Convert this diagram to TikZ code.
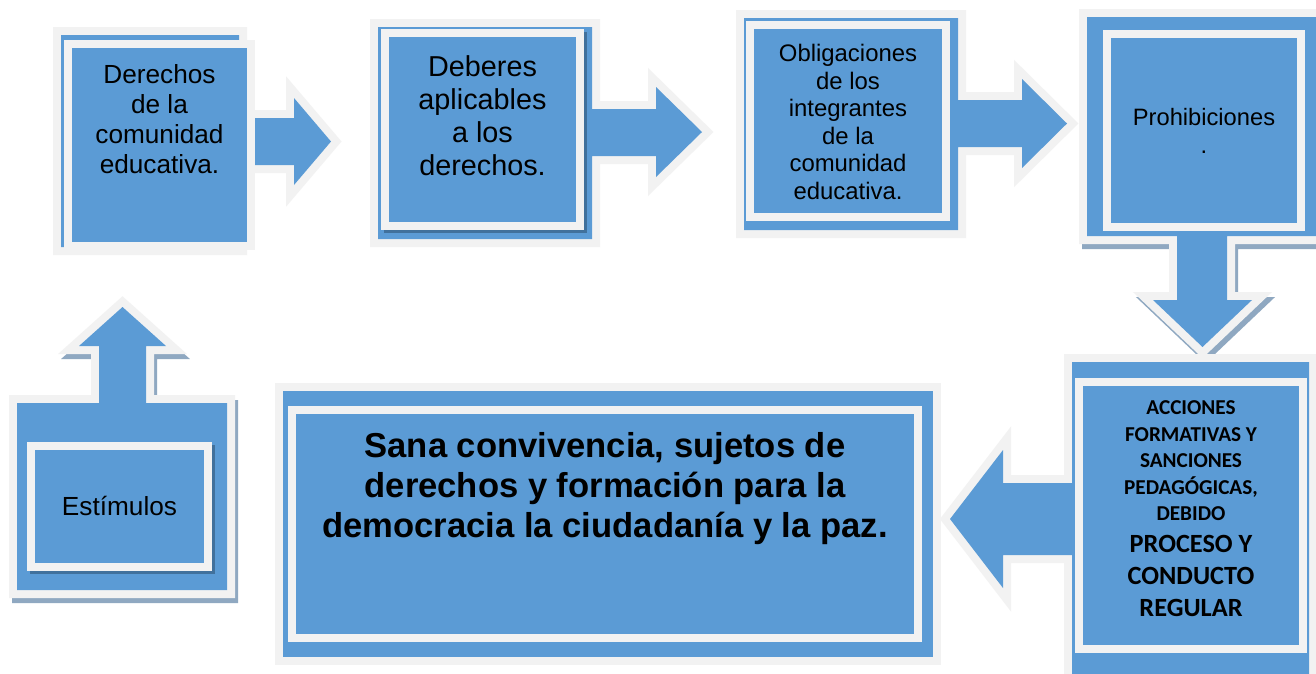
\documentclass[tikz,border=0pt]{standalone}
\usepackage{fontspec}
\setmainfont{Liberation Sans}
\newfontfamily\calibfont{Carlito}
\definecolor{bl}{HTML}{5B9BD5}
\definecolor{gr}{HTML}{F2F2F2}
\definecolor{shd}{HTML}{8FA8C1}
\definecolor{dsh}{HTML}{41719C}
\begin{document}
\begin{tikzpicture}[x=1pt,y=-1pt,
  callout/.style={fill=bl, preaction={draw=gr, line width=16pt, line join=miter, miter limit=20}},
  cshadow/.style={preaction={draw=shd, fill=shd, line width=16pt, line join=miter, miter limit=20, transform canvas={shift={(3pt,-5pt)}}}},
  tbox/.style={fill=bl, draw=gr, line width=8pt, inner sep=0pt, line join=miter},
  tshadow/.style={preaction={draw=dsh, fill=dsh, line width=8pt, transform canvas={shift={(3pt,-3pt)}}}},
  txt/.style={align=center, inner sep=0pt, text=black},
]
\useasboundingbox (0,0) rectangle (1316,673);
\clip (0,0) rectangle (1316,673);
\fill[white] (0,0) rectangle (1316,673);

% 1 Derechos
\path[callout] (61,35) -- (239,35) -- (239,118) -- (294,118) -- (294,98) -- (331,141.5) -- (294,185) -- (294,165) -- (239,165) -- (239,247) -- (61,247) -- cycle;
\node[tbox, minimum width=183pt, minimum height=202pt] (b1) at (159.5,145) {};
\node[txt, font=\fontsize{26.2}{30}\selectfont] (t1) at (159.5,119) {Derechos\\de la\\comunidad\\educativa.};

% 2 Deberes
\path[callout] (378,27) -- (592,27) -- (592,109) -- (656,109) -- (656,87) -- (702,132) -- (656,177) -- (656,156) -- (592,156) -- (592,239) -- (378,239) -- cycle;
\node[tbox, tshadow, minimum width=195pt, minimum height=193pt] (b2) at (482.5,129.5) {};
\node[txt, font=\fontsize{28.8}{33}\selectfont] (t2) at (482.5,116) {Deberes\\aplicables\\a los\\derechos.};

% 3 Obligaciones
\path[callout] (744,18) -- (958,18) -- (958,100) -- (1022,100) -- (1022,79) -- (1067,123.5) -- (1022,168) -- (1022,147) -- (958,147) -- (958,230) -- (744,230) -- cycle;
\node[tbox, minimum width=196pt, minimum height=192pt] (b3) at (848,121) {};
\node[txt, font=\fontsize{23.9}{27.5}\selectfont] (t3) at (848,122) {Obligaciones\\de los\\integrantes\\de la\\comunidad\\educativa.};

% 4 Prohibiciones
\path[cshadow, callout] (1087,17) -- (1340,17) -- (1340,236) -- (1227,236) -- (1227,300) -- (1252,300) -- (1202.5,347) -- (1153,300) -- (1177,300) -- (1177,236) -- (1087,236) -- cycle;
\node[tbox, minimum width=194pt, minimum height=193pt] (b4) at (1204,130.5) {};
\node[txt, font=\fontsize{23.7}{27.5}\selectfont] (t4) at (1204,131) {Prohibiciones\\.};

% 5 Acciones
\path[callout] (1072,362) -- (1309,362) -- (1309,700) -- (1072,700) -- (1072,555) -- (1003,555) -- (1003,588) -- (950,519) -- (1003,450) -- (1003,483) -- (1072,483) -- cycle;
\node[tbox, minimum width=224pt, minimum height=267pt] (b5) at (1191,515.5) {};
\node[txt, font=\calibfont\bfseries\fontsize{21.2}{26.5}\selectfont] (t5a) at (1191,461) {ACCIONES\\FORMATIVAS Y\\SANCIONES\\PEDAGÓGICAS,\\DEBIDO};
\node[txt, font=\calibfont\bfseries\fontsize{26.3}{32}\selectfont] (t5b) at (1191,576) {PROCESO Y\\CONDUCTO\\REGULAR};

% 6 Sana convivencia
\path[callout] (283,391) rectangle (933,657);
\node[tbox, minimum width=626pt, minimum height=228pt] (b6) at (605,524) {};
\node[txt, font=\bfseries\fontsize{34.6}{40}\selectfont] (t6) at (605,489) {Sana convivencia, sujetos de\\derechos y formación para la\\democracia la ciudadanía y la paz.};

% 7 Estimulos
\path[cshadow, callout] (17,403) -- (99,403) -- (99,346) -- (79,346) -- (122.5,307) -- (166,346) -- (146,346) -- (146,403) -- (227,403) -- (227,590) -- (17,590) -- cycle;
\node[tbox, tshadow, minimum width=177pt, minimum height=121pt] (b7) at (119.5,506.5) {};
\node[txt, font=\fontsize{26.2}{30}\selectfont] (t7) at (119.5,506) {Estímulos};
\end{tikzpicture}
\end{document}
